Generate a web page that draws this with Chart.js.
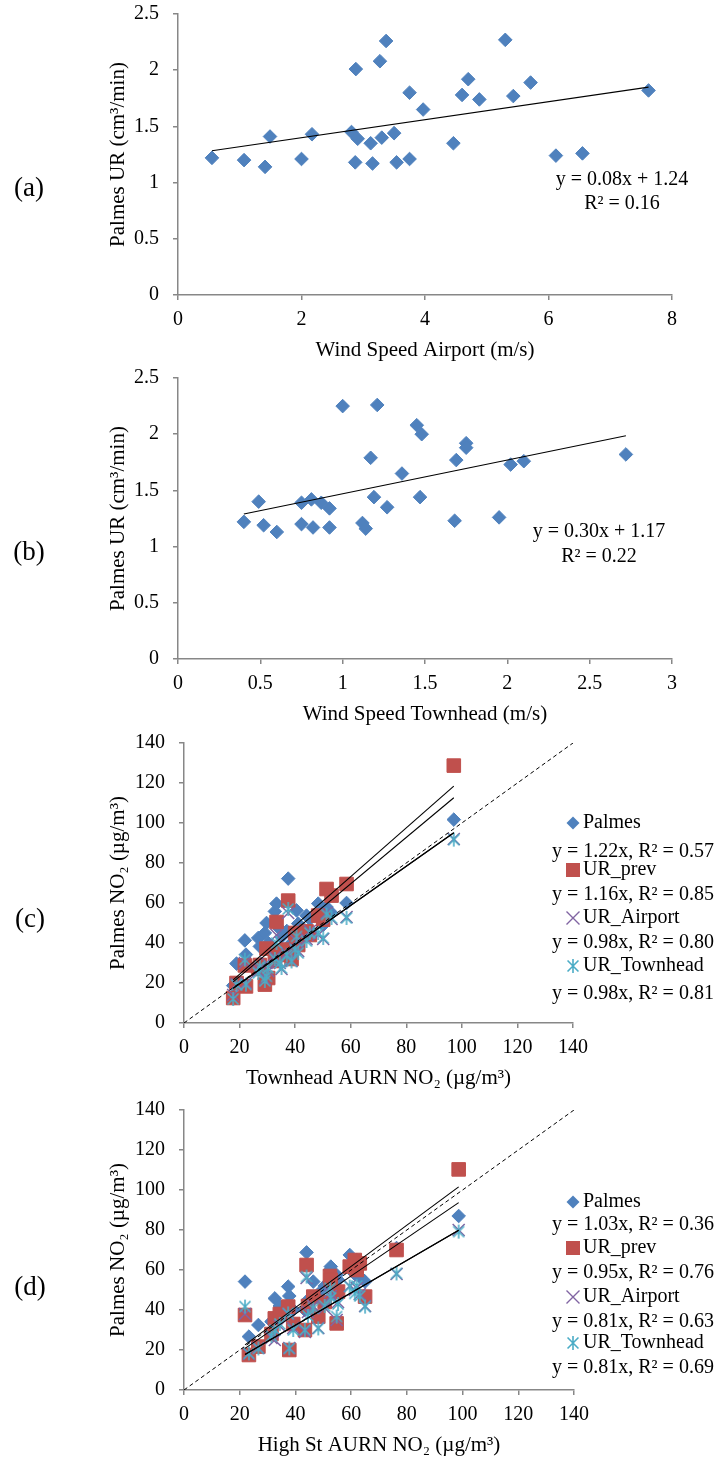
<!DOCTYPE html>
<html>
<head>
<meta charset="utf-8">
<script src="https://cdn.jsdelivr.net/npm/chart.js@4.4.1/dist/chart.umd.min.js"></script>
<style>
  html, body { margin: 0; padding: 0; background: #fff; }
  #page { position: relative; width: 728px; height: 1461px; overflow: hidden; }
  canvas { position: absolute; left: 0; }
  .tag {
    position: absolute;
    font-family: "Liberation Serif", "Times New Roman", serif;
    font-size: 27px;
    color: #000;
    transform: translate(-50%, -50%);
    white-space: nowrap;
  }
</style>
</head>
<body>
<div id="page">
  <canvas id="chartA" style="top:0px" width="728" height="365"></canvas>
  <canvas id="chartB" style="top:365px" width="728" height="365"></canvas>
  <canvas id="chartC" style="top:730px" width="728" height="365"></canvas>
  <canvas id="chartD" style="top:1095px" width="728" height="366"></canvas>
  <div class="tag" style="left:29px; top:187px">(a)</div>
  <div class="tag" style="left:29px; top:551px">(b)</div>
  <div class="tag" style="left:30px; top:918px">(c)</div>
  <div class="tag" style="left:30px; top:1286px">(d)</div>
</div>
<script>
// (a) wind speed at the airport vs Palmes uptake rate
const airportWind = [0.55, 1.07, 1.41, 1.49, 2.00, 2.17, 2.81, 2.88, 2.91, 2.87, 3.12, 3.15, 3.27, 3.30, 3.37,
                     3.50, 3.54, 3.75, 3.75, 3.97, 4.46, 4.60, 4.70, 4.88, 5.30, 5.43, 5.71, 6.12, 6.55, 7.62];
const airportRate = [1.22, 1.20, 1.14, 1.41, 1.21, 1.43, 1.45, 2.01, 1.39, 1.18, 1.35, 1.17, 2.08, 1.40, 2.26,
                     1.44, 1.18, 1.21, 1.80, 1.65, 1.35, 1.78, 1.92, 1.74, 2.27, 1.77, 1.89, 1.24, 1.26, 1.82];
const airportFit = [0.08, 1.24, 0.16]; // slope, intercept, R²

// (b) wind speed at Townhead vs Palmes uptake rate
const townheadWind = [0.40, 0.49, 0.52, 0.60, 0.75, 0.75, 0.81, 0.82, 0.87, 0.92, 0.92, 1.00, 1.12, 1.14, 1.17,
                      1.19, 1.21, 1.27, 1.36, 1.45, 1.48, 1.47, 1.68, 1.69, 1.75, 1.75, 1.95, 2.02, 2.10, 2.72];
const townheadRate = [1.22, 1.40, 1.19, 1.13, 1.39, 1.20, 1.42, 1.17, 1.39, 1.34, 1.17, 2.25, 1.21, 1.16, 1.79,
                      1.44, 2.26, 1.35, 1.65, 2.08, 2.00, 1.44, 1.23, 1.77, 1.92, 1.88, 1.26, 1.73, 1.76, 1.82];
const townheadFit = [0.30, 1.17, 0.22];

const seriesNames = ['Palmes', 'UR_prev', 'UR_Airport', 'UR_Townhead'];

// (c) Townhead AURN NO2 vs the four estimates
const townheadNO2 = [17.7, 18.9, 21.9, 22.3, 26.7, 27.3, 29.1, 29.7, 30.3, 32.7, 33.3, 34.5, 35.1, 37.0,
                     37.5, 38.7, 40.0, 40.5, 41.1, 44.1, 45.3, 48.3, 50.1, 51.3, 53.1, 58.5, 97.1];
const townheadPalmes = [18.7, 29.7, 41.3, 34.2, 42.5, 38.3, 45.0, 50.0, 40.0, 55.8, 59.7, 47.0, 43.0, 46.0,
                        72.2, 40.0, 38.0, 56.3, 49.7, 53.7, 52.0, 59.7, 49.0, 58.0, 55.0, 60.0, 101.7];
const townheadPrev = [12.5, 20.0, 28.8, 18.3, 27.0, 29.0, 19.2, 37.2, 22.5, 31.0, 50.5, 34.0, 36.0, 36.7,
                      61.2, 32.0, 45.0, 40.0, 39.0, 45.8, 44.0, 53.7, 51.7, 67.0, 63.7, 69.5, 128.7];
const townheadUrAirport = [14.0, 19.5, 30.0, 20.0, 26.0, 27.0, 22.0, 30.0, 26.0, 33.0, 44.0, 30.0, 27.0, 35.0,
                           55.0, 31.0, 37.0, 41.0, 36.0, 42.0, 46.0, 44.0, 42.0, 55.0, 52.0, 53.0, 92.0];
const townheadUrTownhead = [12.0, 19.0, 31.7, 19.2, 25.0, 28.3, 21.0, 23.3, 27.5, 32.0, 40.0, 30.0, 27.5, 34.0,
                            57.0, 30.8, 36.7, 43.3, 35.0, 41.0, 45.0, 45.0, 42.5, 54.2, 52.5, 52.5, 91.7];
const townheadSlopes = [1.22, 1.16, 0.98, 0.98];
const townheadR2 = [0.57, 0.85, 0.80, 0.81];

// (d) High St AURN NO2 vs the four estimates
const highStNO2 = [21.9, 23.3, 26.7, 31.4, 32.6, 34.4, 37.4, 37.8, 39.2, 43.4, 44.0, 44.5, 46.4, 48.2,
                   50.5, 52.4, 52.7, 54.8, 55.3, 59.5, 61.3, 62.0, 63.1, 65.0, 76.3, 98.6];
const highStPalmes = [54.2, 26.7, 32.5, 34.2, 45.8, 42.0, 51.7, 47.0, 40.0, 40.0, 68.8, 45.0, 54.2, 48.0,
                      52.0, 60.0, 61.7, 57.5, 55.0, 67.5, 58.0, 65.0, 56.7, 54.2, 71.0, 87.0];
const highStPrev = [37.5, 17.5, 21.7, 28.0, 35.8, 38.0, 41.7, 20.0, 33.0, 30.0, 62.5, 42.0, 46.7, 36.7,
                    44.0, 57.0, 55.0, 33.3, 49.2, 61.7, 65.0, 60.0, 63.3, 46.7, 70.0, 110.3];
const highStUrAirport = [38.0, 18.0, 21.0, 26.0, 25.0, 32.0, 38.0, 21.0, 31.0, 29.0, 56.0, 39.0, 42.0, 31.0,
                         41.0, 49.0, 47.0, 35.0, 44.0, 52.0, 50.0, 51.0, 48.0, 42.0, 58.0, 80.0];
const highStUrTownhead = [41.7, 18.3, 20.8, 27.0, 30.0, 33.0, 38.3, 20.8, 30.0, 30.0, 56.7, 37.0, 40.8, 30.8,
                          42.0, 50.8, 46.0, 36.7, 43.0, 51.7, 48.3, 52.0, 47.0, 41.7, 58.3, 79.2];
const highStSlopes = [1.03, 0.95, 0.81, 0.81];
const highStR2 = [0.36, 0.76, 0.63, 0.69];

const serif = '"Liberation Serif", "Times New Roman", serif';
const axisGray = '#878787';
const seriesColors = ['#4F81BD', '#C0504D', '#8064A2', '#4BACC6'];

// Excel-style asterisk: an x with a vertical bar through it
function asteriskImage(color, size) {
    const c = document.createElement('canvas');
    c.width = size;
    c.height = size;
    const g = c.getContext('2d');
    const m = size / 2;
    const r = size / 2 - 1;
    const d = r * 0.78;
    g.strokeStyle = color;
    g.lineWidth = 1.6;
    g.beginPath();
    g.moveTo(m - d, m - d); g.lineTo(m + d, m + d);
    g.moveTo(m + d, m - d); g.lineTo(m - d, m + d);
    g.moveTo(m, m - r); g.lineTo(m, m + r);
    g.stroke();
    return c;
}

const starImg = asteriskImage(seriesColors[3], 16);

const markerStyles = [
    { pointStyle: 'rectRot', radius: 6.8, borderWidth: 1 },
    { pointStyle: 'rect', radius: 9.6, borderWidth: 1 },
    { pointStyle: 'crossRot', radius: 8.5, borderWidth: 1.5 },
    { pointStyle: starImg, radius: 8, borderWidth: 1 }
];

function points(xs, ys) {
    return xs.map(function (x, i) {
        return { x: x, y: ys[i] };
    });
}

function markerSet(k, xs, ys) {
    const st = markerStyles[k];
    return {
        label: seriesNames[k],
        data: points(xs, ys),
        pointStyle: st.pointStyle,
        pointRadius: st.radius,
        pointBorderWidth: st.borderWidth,
        pointBackgroundColor: seriesColors[k],
        pointBorderColor: seriesColors[k],
        showLine: false,
        order: 10 - k
    };
}

// straight fit line drawn across the span of the x data
function trendSet(xs, slope, intercept) {
    const x0 = Math.min.apply(null, xs);
    const x1 = Math.max.apply(null, xs);
    return {
        data: [{ x: x0, y: slope * x0 + intercept }, { x: x1, y: slope * x1 + intercept }],
        showLine: true,
        borderColor: '#000',
        borderWidth: 1.1,
        pointRadius: 0,
        tension: 0,
        order: 0
    };
}

function oneToOne(max) {
    return {
        data: [{ x: 0, y: 0 }, { x: max, y: max }],
        showLine: true,
        borderColor: '#000',
        borderWidth: 1,
        borderDash: [4, 3],
        pointRadius: 0,
        order: 0
    };
}

function tickText(v) {
    return String(Math.round(v * 10) / 10);
}

function noPadding(scale) {
    scale.paddingTop = 0;
    scale.paddingBottom = 0;
    scale.paddingLeft = 0;
    scale.paddingRight = 0;
}

function xAxis(min, max, step, title) {
    return {
        type: 'linear',
        min: min,
        max: max,
        ticks: { stepSize: step, color: '#000', font: { family: serif, size: 20 }, padding: 8, callback: tickText },
        grid: { drawOnChartArea: false, color: axisGray, tickLength: 5, lineWidth: 1.5 },
        border: { color: axisGray, width: 1.5 },
        title: { display: true, text: title, color: '#000', font: { family: serif, size: 21 }, padding: { top: 0, bottom: 2 } },
        afterFit: function (scale) {
            scale.height = 70;
            noPadding(scale);
        }
    };
}

function yAxis(min, max, step, title, width) {
    return {
        type: 'linear',
        min: min,
        max: max,
        ticks: { stepSize: step, color: '#000', font: { family: serif, size: 20 }, padding: 14, callback: tickText },
        grid: { drawOnChartArea: false, color: axisGray, tickLength: 5, lineWidth: 1.5 },
        border: { color: axisGray, width: 1.5 },
        title: { display: true, text: title, color: '#000', font: { family: serif, size: 21 }, padding: { top: 106, bottom: 0 } },
        afterFit: function (scale) {
            scale.width = width;
            noPadding(scale);
        }
    };
}

// free text drawn on the canvas: fit equations and legend rows
function drawLegendMarker(ctx, k, x, y) {
    ctx.save();
    ctx.fillStyle = seriesColors[k];
    ctx.strokeStyle = seriesColors[k];
    ctx.beginPath();
    if (k === 0) {
        const r = 6.5;
        ctx.moveTo(x, y - r); ctx.lineTo(x + r, y); ctx.lineTo(x, y + r); ctx.lineTo(x - r, y);
        ctx.closePath();
        ctx.fill();
    } else if (k === 1) {
        ctx.fillRect(x - 7, y - 7, 14, 14);
    } else if (k === 2) {
        ctx.lineWidth = 1.4;
        ctx.moveTo(x - 6.5, y - 6.5); ctx.lineTo(x + 6.5, y + 6.5);
        ctx.moveTo(x + 6.5, y - 6.5); ctx.lineTo(x - 6.5, y + 6.5);
        ctx.stroke();
    } else {
        ctx.drawImage(starImg, x - starImg.width / 2, y - starImg.height / 2);
    }
    ctx.restore();
}

function textLayer(items) {
    return {
        id: 'textLayer',
        afterDraw: function (chart) {
            const ctx = chart.ctx;
            ctx.save();
            ctx.font = '20px ' + serif;
            ctx.fillStyle = '#000';
            ctx.textBaseline = 'middle';
            items.forEach(function (it) {
                if (it.marker !== undefined) drawLegendMarker(ctx, it.marker, it.mx, it.y);
                ctx.textAlign = it.align || 'left';
                ctx.fillText(it.text, it.x, it.y);
            });
            ctx.restore();
        }
    };
}

function fitLabel(slope, r2) {
    return 'y = ' + slope.toFixed(2) + 'x, R² = ' + r2.toFixed(2);
}

function legendItems(slopes, r2s, rows) {
    const items = [];
    seriesNames.forEach(function (name, k) {
        items.push({ text: name, x: 583, y: rows[2 * k], marker: k, mx: 573 });
        items.push({ text: fitLabel(slopes[k], r2s[k]), x: 552, y: rows[2 * k + 1] });
    });
    return items;
}

function makeChart(id, area, datasets, scales, items) {
    const canvas = document.getElementById(id);
    return new Chart(canvas, {
        type: 'scatter',
        data: { datasets: datasets },
        options: {
            responsive: false,
            animation: false,
            devicePixelRatio: 1,
            layout: {
                padding: {
                    left: 0,
                    top: area.top,
                    right: canvas.width - area.right,
                    bottom: canvas.height - area.bottom - 70
                }
            },
            plugins: { legend: { display: false }, tooltip: { enabled: false } },
            scales: scales
        },
        plugins: [textLayer(items)]
    });
}

const rateTitle = 'Palmes UR (cm³/min)';
const no2Title = 'Palmes NO₂ (µg/m³)';

makeChart('chartA', { top: 14, right: 672, bottom: 295 },
    [markerSet(0, airportWind, airportRate), trendSet(airportWind, airportFit[0], airportFit[1])],
    { x: xAxis(0, 8, 2, 'Wind Speed Airport (m/s)'), y: yAxis(0, 2.5, 0.5, rateTitle, 178) },
    [
        { text: 'y = ' + airportFit[0].toFixed(2) + 'x + ' + airportFit[1].toFixed(2), x: 622, y: 180, align: 'center' },
        { text: 'R² = ' + airportFit[2].toFixed(2), x: 622, y: 204, align: 'center' }
    ]);

makeChart('chartB', { top: 13, right: 672, bottom: 294 },
    [markerSet(0, townheadWind, townheadRate), trendSet(townheadWind, townheadFit[0], townheadFit[1])],
    { x: xAxis(0, 3, 0.5, 'Wind Speed Townhead (m/s)'), y: yAxis(0, 2.5, 0.5, rateTitle, 178) },
    [
        { text: 'y = ' + townheadFit[0].toFixed(2) + 'x + ' + townheadFit[1].toFixed(2), x: 599, y: 167, align: 'center' },
        { text: 'R² = ' + townheadFit[2].toFixed(2), x: 599, y: 192, align: 'center' }
    ]);

const townheadSeries = [townheadPalmes, townheadPrev, townheadUrAirport, townheadUrTownhead];
makeChart('chartC', { top: 13, right: 573, bottom: 293 },
    townheadSeries.map(function (ys, k) { return markerSet(k, townheadNO2, ys); })
        .concat(townheadSlopes.map(function (s) { return trendSet(townheadNO2, s, 0); }))
        .concat([oneToOne(140)]),
    { x: xAxis(0, 140, 20, 'Townhead AURN NO₂ (µg/m³)'), y: yAxis(0, 140, 20, no2Title, 184) },
    legendItems(townheadSlopes, townheadR2, [93, 122, 140, 165, 188, 213, 236, 264]));

const highStSeries = [highStPalmes, highStPrev, highStUrAirport, highStUrTownhead];
makeChart('chartD', { top: 15, right: 574, bottom: 295 },
    highStSeries.map(function (ys, k) { return markerSet(k, highStNO2, ys); })
        .concat(highStSlopes.map(function (s) { return trendSet(highStNO2, s, 0); }))
        .concat([oneToOne(140)]),
    { x: xAxis(0, 140, 20, 'High St AURN NO₂ (µg/m³)'), y: yAxis(0, 140, 20, no2Title, 184) },
    legendItems(highStSlopes, highStR2, [107, 130, 153, 178, 202, 227, 248, 273]));
</script>
</body>
</html>
